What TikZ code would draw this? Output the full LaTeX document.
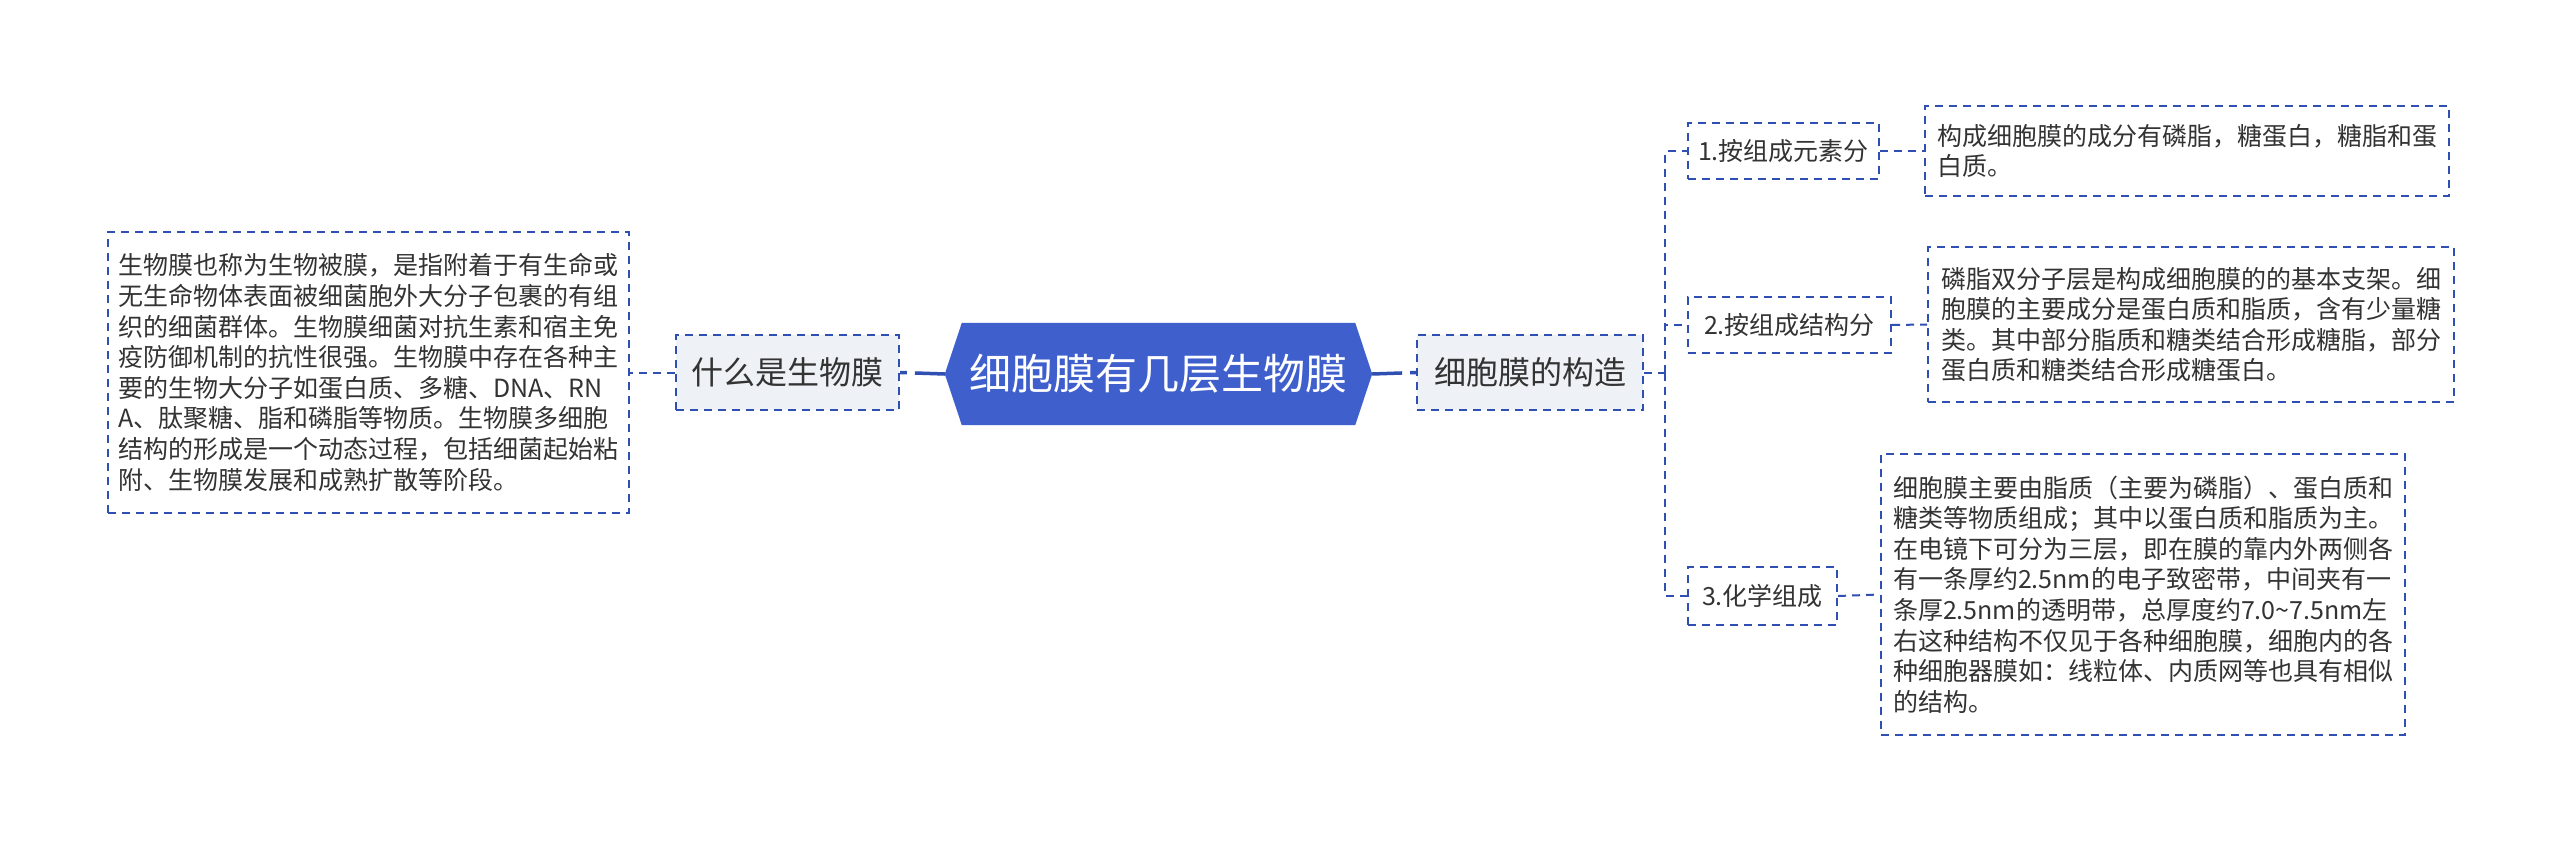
\documentclass[tikz,border=0pt]{standalone}
\usepackage{fontspec}
\newfontfamily\cjk{Noto Sans CJK SC}
\usetikzlibrary{backgrounds}
\definecolor{bordc}{HTML}{2F4FB3}
\definecolor{hexc}{HTML}{3F5FCD}
\definecolor{lvlfill}{HTML}{EEF1F6}
\definecolor{txtc}{HTML}{333333}
\begin{document}
\begin{tikzpicture}[x=1pt,y=-1pt,
  dbox/.style={draw=bordc, line width=2pt, dash pattern=on 8pt off 6pt, text=txtc,
    font=\cjk\fontsize{25}{30.6}\selectfont, align=left, inner sep=0pt},
  lvlone/.style={dbox, fill=lvlfill, font=\cjk\fontsize{32}{38}\selectfont},
  conn/.style={draw=bordc, line width=2pt, dash pattern=on 8pt off 6pt},
  mainconn/.style={draw=bordc, line width=3.5pt, dash pattern=on 30pt off 8pt}
]
\useasboundingbox (0,0) rectangle (2560,843);

% left text box
\node[dbox, minimum width=521pt, minimum height=281pt] (L) at (368.5,372.5)
{生物膜也称为生物被膜，是指附着于有生命或\\
无生命物体表面被细菌胞外大分子包裹的有组\\
织的细菌群体。生物膜细菌对抗生素和宿主免\\
疫防御机制的抗性很强。生物膜中存在各种主\\
要的生物大分子如蛋白质、多糖、DNA、RN\\
A、肽聚糖、脂和磷脂等物质。生物膜多细胞\\
结构的形成是一个动态过程，包括细菌起始粘\\
附、生物膜发展和成熟扩散等阶段。};

\node[lvlone, minimum width=223pt, minimum height=75pt] (A) at (787.5,372.5) {什么是生物膜};

% center
\node[text=white, font=\cjk\fontsize{42}{50}\selectfont, minimum width=427pt,
  minimum height=102pt, inner sep=0pt] (C) at (1158.5,374) {细胞膜有几层生物膜};
\begin{scope}[on background layer]
\fill[white] (0,0) rectangle (2560,843);
\fill[hexc] (C.west) -- ([xshift=17pt]C.north west) -- ([xshift=-17pt]C.north east)
  -- (C.east) -- ([xshift=-17pt]C.south east) -- ([xshift=17pt]C.south west) -- cycle;
\end{scope}

\node[lvlone, minimum width=226pt, minimum height=75pt] (B) at (1530,372.5) {细胞膜的构造};

% level 2
\node[dbox, minimum width=191pt, minimum height=56pt] (N1) at (1783.5,151) {1.按组成元素分};
\node[dbox, minimum width=203pt, minimum height=56pt] (N2) at (1789.5,325) {2.按组成结构分};
\node[dbox, minimum width=149pt, minimum height=58pt] (N3) at (1762.5,596) {3.化学组成};

% text boxes
\node[dbox, minimum width=524pt, minimum height=90pt] (T1) at (2187,151)
{构成细胞膜的成分有磷脂，糖蛋白，糖脂和蛋\\
白质。};
\node[dbox, minimum width=526pt, minimum height=155pt] (T2) at (2191,324.5)
{磷脂双分子层是构成细胞膜的的基本支架。细\\
胞膜的主要成分是蛋白质和脂质，含有少量糖\\
类。其中部分脂质和糖类结合形成糖脂，部分\\
蛋白质和糖类结合形成糖蛋白。};
\node[dbox, minimum width=524pt, minimum height=281pt] (T3) at (2143,594.5)
{细胞膜主要由脂质（主要为磷脂）、蛋白质和\\
糖类等物质组成；其中以蛋白质和脂质为主。\\
在电镜下可分为三层，即在膜的靠内外两侧各\\
有一条厚约2.5nm的电子致密带，中间夹有一\\
条厚2.5nm的透明带，总厚度约7.0\textasciitilde7.5nm左\\
右这种结构不仅见于各种细胞膜，细胞内的各\\
种细胞器膜如：线粒体、内质网等也具有相似\\
的结构。};

% connectors
\draw[mainconn] (C.west) -- (A.east);
\draw[mainconn] (C.east) -- (B.west);
\draw[conn] (A.west) -- (L.east);
\coordinate (J) at (1665,372.5);
\draw[conn] (B.east) -- (J);
\draw[conn] (J) |- (N1.west);
\draw[conn] (J) |- (N2.west);
\draw[conn] (J) |- (N3.west);
\draw[conn] (N1.east) -- (T1.west);
\draw[conn] (N2.east) -- (T2.west);
\draw[conn] (N3.east) -- (T3.west);
\end{tikzpicture}
\end{document}
